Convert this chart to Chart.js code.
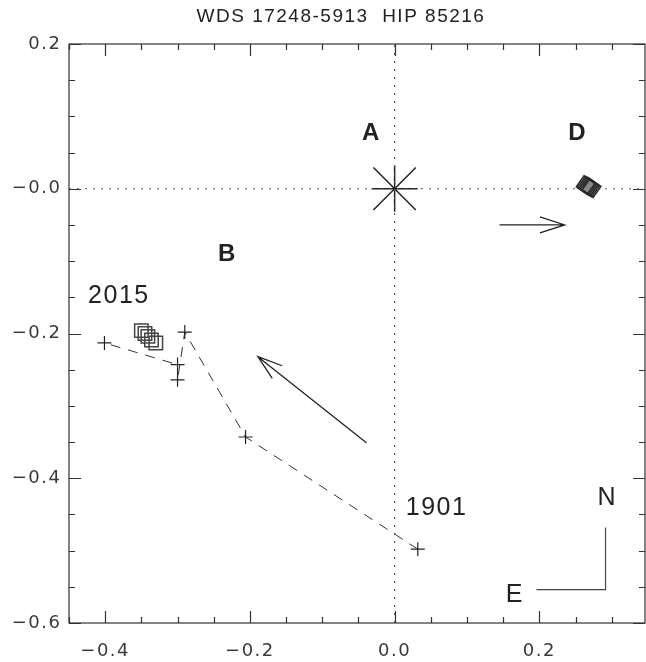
<!DOCTYPE html>
<html>
<head>
<meta charset="utf-8">
<script src="https://cdn.jsdelivr.net/npm/chart.js@4.4.1/dist/chart.umd.min.js"></script>
<style>
html, body { margin: 0; padding: 0; background: #fff; }
canvas { display: block; }
</style>
</head>
<body>
<canvas id="chartOrbit" width="646" height="662"></canvas>
<script>
// offsets in arcsec
const titleText = 'WDS 17248-5913  HIP 85216'
const xTickValues = [-0.4, -0.2, 0.0, 0.2]
const xTickLabels = ['\u22120.4', '\u22120.2', '0.0', '0.2']
const yTickValues = [0.2, 0.0, -0.2, -0.4, -0.6]
const yTickLabels = ['0.2', '\u22120.0', '\u22120.2', '\u22120.4', '\u22120.6']

const primaryX = [0.0]
const primaryY = [0.0]
// measures, oldest (1901) first
const measX = [0.032, -0.206, -0.290, -0.300, -0.300, -0.401]
const measY = [-0.498, -0.343, -0.198, -0.264, -0.243, -0.213]
// recent measures (2015)
const recentX = [-0.350, -0.345, -0.341, -0.336, -0.330]
const recentY = [-0.196, -0.200, -0.204, -0.209, -0.213]
// component D
const compDX = [0.264, 0.266, 0.268, 0.270, 0.272]
const compDY = [0.005, 0.004, 0.003, 0.002, 0.001]

const noteText = ['A', 'D', 'B', '2015', '1901', 'N', 'E']
const noteX = [-0.032, 0.253, -0.231, -0.381, 0.058, 0.294, 0.166]
const noteY = [0.077, 0.077, -0.091, -0.148, -0.441, -0.428, -0.562]
const noteBold = [true, true, true, false, false, false, false]

const arrowFromX = [-0.039, 0.145]
const arrowFromY = [-0.351, -0.050]
const arrowToX = [-0.189, 0.235]
const arrowToY = [-0.232, -0.050]

const compassX = [0.196, 0.2915, 0.2915]
const compassY = [-0.554, -0.554, -0.468]

const xMin = -0.45, xMax = 0.346
const yMin = -0.6, yMax = 0.2

function pts(xs, ys) {
    return xs.map((v, i) => ({x: v, y: ys[i]}))
}
function tickLabel(v, vals, labels) {
    const i = vals.findIndex(t => Math.abs(t - v) < 1e-6)
    return i < 0 ? '' : labels[i]
}
function isMajor(v, vals) {
    return vals.some(t => Math.abs(t - v) < 1e-6)
}

const ink = '#222'

const frameTicks = {
    id: 'frameTicks',
    beforeDraw(chart) {
        chart.ctx.letterSpacing = '1.5px'
    },
    beforeDatasetsDraw(chart) {
        const {ctx, chartArea: a, scales: {x, y}} = chart
        ctx.save()
        ctx.strokeStyle = '#333'
        ctx.lineWidth = 1.2
        ctx.strokeRect(a.left, a.top, a.right - a.left, a.bottom - a.top)
        ctx.beginPath()
        x.ticks.forEach(t => {
            const px = Math.round(x.getPixelForValue(t.value)) + 0.5
            const len = isMajor(t.value, xTickValues) ? 12 : 6
            ctx.moveTo(px, a.bottom); ctx.lineTo(px, a.bottom - len)
            ctx.moveTo(px, a.top); ctx.lineTo(px, a.top + len)
        })
        y.ticks.forEach(t => {
            const py = Math.round(y.getPixelForValue(t.value)) + 0.5
            const len = isMajor(t.value, yTickValues) ? 12 : 6
            ctx.moveTo(a.left, py); ctx.lineTo(a.left + len, py)
            ctx.moveTo(a.right, py); ctx.lineTo(a.right - len, py)
        })
        ctx.stroke()
        // title, centred a little right of the canvas middle as in the original
        ctx.fillStyle = ink
        ctx.font = '19px "Liberation Sans"'
        ctx.textAlign = 'center'
        ctx.textBaseline = 'middle'
        ctx.fillText(titleText, 341, 17)
        ctx.restore()
    },
    afterDatasetsDraw(chart) {
        const {ctx, scales: {x, y}} = chart
        ctx.save()
        ctx.strokeStyle = ink
        ctx.lineWidth = 1.3
        for (let i = 0; i < arrowFromX.length; i++) {
            const x1 = x.getPixelForValue(arrowFromX[i]), y1 = y.getPixelForValue(arrowFromY[i])
            const x2 = x.getPixelForValue(arrowToX[i]), y2 = y.getPixelForValue(arrowToY[i])
            const ang = Math.atan2(y2 - y1, x2 - x1)
            const hl = 26, ha = 18 * Math.PI / 180
            ctx.beginPath()
            ctx.moveTo(x1, y1); ctx.lineTo(x2, y2)
            ctx.moveTo(x2 - hl * Math.cos(ang - ha), y2 - hl * Math.sin(ang - ha))
            ctx.lineTo(x2, y2)
            ctx.lineTo(x2 - hl * Math.cos(ang + ha), y2 - hl * Math.sin(ang + ha))
            ctx.stroke()
        }
        ctx.fillStyle = ink
        ctx.textAlign = 'center'
        ctx.textBaseline = 'middle'
        ctx.letterSpacing = '1.5px'
        noteText.forEach((s, i) => {
            ctx.font = noteBold[i] ? 'bold 24px "Liberation Sans"' : '25px "Liberation Sans"'
            ctx.fillText(s, x.getPixelForValue(noteX[i]), y.getPixelForValue(noteY[i]))
        })
        ctx.restore()
    }
}

const ctxOrbit = document.getElementById('chartOrbit').getContext('2d')
const chartOrbit = new Chart(ctxOrbit, {
    type: 'scatter',
    data: {
        datasets: [
            {   // dotted zero lines
                data: [{x: xMin, y: 0}, {x: xMax, y: 0}],
                showLine: true, borderColor: '#555', borderWidth: 1.2, borderDash: [2, 6], pointRadius: 0
            },
            {
                data: [{x: 0, y: yMin}, {x: 0, y: yMax}],
                showLine: true, borderColor: '#555', borderWidth: 1.2, borderDash: [2, 6], pointRadius: 0
            },
            {   // orbit path
                data: pts(measX, measY),
                showLine: true, borderColor: '#333', borderWidth: 1, borderDash: [10, 8],
                pointStyle: 'cross', pointRadius: 7, pointBorderWidth: 1.2, pointBorderColor: ink
            },
            {
                data: pts(recentX, recentY),
                pointStyle: 'rect', pointRadius: 9.5, pointBorderWidth: 1.5,
                pointBorderColor: '#444', pointBackgroundColor: 'rgba(0,0,0,0)'
            },
            {
                data: pts(compDX, compDY),
                pointStyle: 'rect', rotation: 35, pointRadius: 9.5, pointBorderWidth: 1.6,
                pointBorderColor: '#2a2a2a', pointBackgroundColor: 'rgba(40,40,40,0.15)'
            },
            {   // primary: asterisk
                data: pts(primaryX, primaryY),
                pointStyle: 'cross', pointRadius: 23, pointBorderWidth: 1.5, pointBorderColor: ink
            },
            {
                data: pts(primaryX, primaryY),
                pointStyle: 'crossRot', pointRadius: 30, pointBorderWidth: 1.5, pointBorderColor: ink
            },
            {   // compass
                data: pts(compassX, compassY),
                showLine: true, borderColor: '#444', borderWidth: 1.2, pointRadius: 0
            }
        ]
    },
    options: {
        responsive: false,
        animation: false,
        devicePixelRatio: 1,
        events: [],
        // big asterisk radius would otherwise pad the right side
        layout: {autoPadding: false, padding: {left: 0, right: 1, top: 44, bottom: 0}},
        plugins: {
            legend: {display: false},
            tooltip: {enabled: false},
            title: {display: false}
        },
        scales: {
            x: {
                type: 'linear', min: xMin, max: xMax,
                grid: {display: false, drawTicks: false, tickLength: 0},
                border: {display: false},
                afterFit: s => { s.height = 39 },
                ticks: {
                    stepSize: 0.05, includeBounds: false, autoSkip: false, maxRotation: 0, maxTicksLimit: 100,
                    padding: 18, color: '#3a3a3a',
                    font: {family: 'DejaVu Sans', size: 18},
                    callback: v => tickLabel(v, xTickValues, xTickLabels)
                }
            },
            y: {
                type: 'linear', min: yMin, max: yMax,
                grid: {display: false, drawTicks: false, tickLength: 0},
                border: {display: false},
                afterFit: s => { s.width = 69 },
                ticks: {
                    stepSize: 0.05, includeBounds: false, autoSkip: false, maxTicksLimit: 100,
                    padding: 7.5, color: '#3a3a3a',
                    font: {family: 'DejaVu Sans', size: 18},
                    callback: v => tickLabel(v, yTickValues, yTickLabels)
                }
            }
        }
    },
    plugins: [frameTicks]
})
</script>
</body>
</html>
